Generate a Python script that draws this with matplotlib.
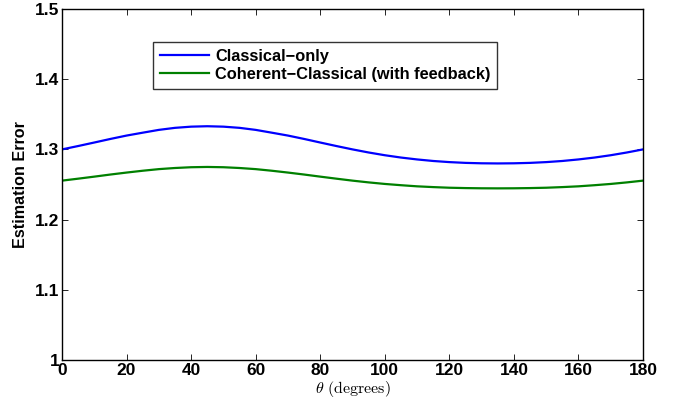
import matplotlib
matplotlib.use("Agg")
import matplotlib.pyplot as plt

theta = [0, 5, 10, 15, 20, 25, 30, 35, 40, 45, 50, 55, 60, 65, 70, 75, 80, 85, 90,
         95, 100, 105, 110, 115, 120, 125, 130, 135, 140, 145, 150, 155, 160, 165,
         170, 175, 180]
classical_only = [1.3000, 1.3048, 1.3098, 1.3149, 1.3197, 1.3238, 1.3278, 1.3307,
                  1.3324, 1.3330, 1.3324, 1.3307, 1.3278, 1.3238, 1.3197, 1.3149,
                  1.3098, 1.3048, 1.3000, 1.2956, 1.2917, 1.2884, 1.2857, 1.2835,
                  1.2819, 1.2808, 1.2802, 1.2800, 1.2802, 1.2808, 1.2819, 1.2835,
                  1.2857, 1.2884, 1.2917, 1.2956, 1.3000]
coherent_classical = [1.2555, 1.2583, 1.2612, 1.2642, 1.2670, 1.2696, 1.2719, 1.2735,
                      1.2746, 1.2750, 1.2746, 1.2735, 1.2719, 1.2696, 1.2670, 1.2642,
                      1.2612, 1.2583, 1.2555, 1.2530, 1.2508, 1.2490, 1.2474, 1.2463,
                      1.2454, 1.2449, 1.2446, 1.2445, 1.2446, 1.2449, 1.2454, 1.2463,
                      1.2474, 1.2490, 1.2508, 1.2530, 1.2555]
series_labels = ["Classical\u2212only", "Coherent\u2212Classical (with feedback)"]
xticks = [0, 20, 40, 60, 80, 100, 120, 140, 160, 180]
yticks = [1.0, 1.1, 1.2, 1.3, 1.4, 1.5]
ytick_labels = ["1", "1.1", "1.2", "1.3", "1.4", "1.5"]

plt.rcParams['font.family'] = ['Liberation Sans', 'DejaVu Sans']
plt.rcParams['font.weight'] = 'bold'
plt.rcParams['mathtext.fontset'] = 'cm'

fig = plt.figure(figsize=(6.86, 4.03), dpi=100)
ax = fig.add_axes([62/686, 1 - 360/403, (643 - 62)/686, (360 - 9)/403])

ax.plot(theta, classical_only, color='#0000ff', lw=1.6, label=series_labels[0])
ax.plot(theta, coherent_classical, color='#008000', lw=1.6, label=series_labels[1])

ax.set_xlim(0, 180)
ax.set_ylim(1.0, 1.5)
ax.set_xticks(xticks)
ax.set_xticklabels([str(t) for t in xticks], fontsize=12.5, fontweight='bold')
ax.set_yticks(yticks)
ax.set_yticklabels(ytick_labels, fontsize=12.5, fontweight='bold')
ax.tick_params(direction='in', length=4, width=0.6, top=True, right=True, pad=2)
for s in ax.spines.values():
    s.set_linewidth(1.0)

ax.set_xlabel(r'$\theta\ \mathrm{(degrees)}$', fontsize=11.5, labelpad=1)
ax.set_ylabel('Estimation Error', fontsize=11.6, fontweight='bold', labelpad=5)

leg = ax.legend(loc='upper left', bbox_to_anchor=((153 - 62)/581, (360 - 42)/351),
                borderaxespad=0, frameon=True, fancybox=False, edgecolor='black',
                prop={'weight': 'bold', 'size': 11.8}, handlelength=3.0,
                borderpad=0.4, labelspacing=0.22, handletextpad=0.4)
leg.get_frame().set_linewidth(1.0)

fig.savefig('out.png', dpi=100)
